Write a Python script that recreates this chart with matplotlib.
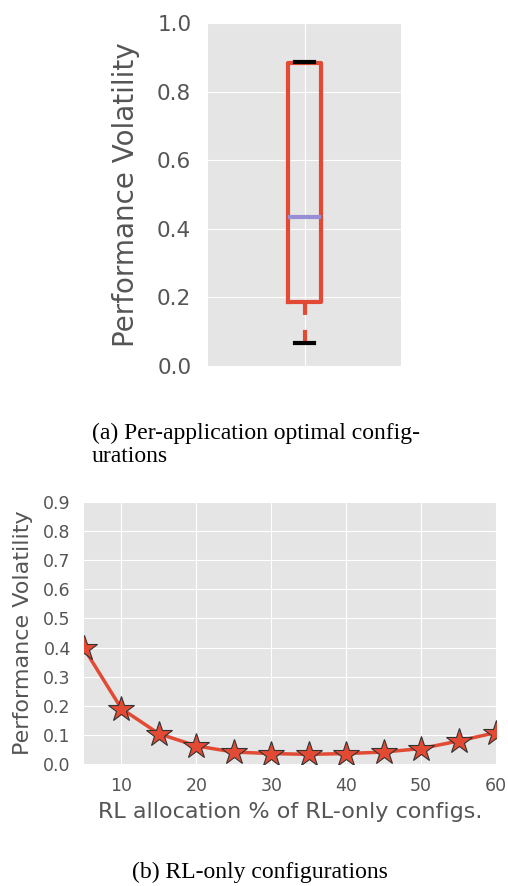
import matplotlib
matplotlib.use("Agg")
import matplotlib.pyplot as plt

plt.style.use("ggplot")

# Data
box_label = ["optimal"]
box_whislo = [0.066]
box_q1 = [0.187]
box_med = [0.433]
box_q3 = [0.882]
box_whishi = [0.885]

rl_alloc = [5, 10, 15, 20, 25, 30, 35, 40, 45, 50, 55, 60]
volatility = [0.397, 0.19, 0.104, 0.062, 0.041, 0.036, 0.033, 0.036, 0.041, 0.053, 0.079, 0.108]

top_yticks = [0.0, 0.2, 0.4, 0.6, 0.8, 1.0]
bot_yticks = [0.0, 0.1, 0.2, 0.3, 0.4, 0.5, 0.6, 0.7, 0.8, 0.9]
bot_xticks = [10, 20, 30, 40, 50, 60]

W, H = 508, 886
fig = plt.figure(figsize=(W / 100, H / 100), dpi=100)
fig.patch.set_facecolor("white")

def rect(l, t, r, b):
    return [l / W, 1 - b / H, (r - l) / W, (b - t) / H]

red = "#E24A33"
purple = "#988ED5"
gray = "#555555"

# Top: box plot
ax1 = fig.add_axes(rect(208, 23, 401, 366))
stats = [dict(label=box_label[0], whislo=box_whislo[0], q1=box_q1[0], med=box_med[0],
              q3=box_q3[0], whishi=box_whishi[0], fliers=[])]
ax1.bxp(stats, positions=[1], widths=0.175, capwidths=[0.1], showfliers=False,
        boxprops=dict(color=red, linewidth=3),
        whiskerprops=dict(color=red, linewidth=3, linestyle=(0, (3.1, 3.6))),
        capprops=dict(color="black", linewidth=3),
        medianprops=dict(color=purple, linewidth=3))
ax1.set_xlim(0.5, 1.5)
ax1.set_ylim(0, 1.0)
ax1.set_yticks(top_yticks)
ax1.set_yticklabels([f"{v:.1f}" for v in top_yticks])
ax1.set_xticks([1])
ax1.set_xticklabels([""])
ax1.tick_params(axis="both", length=0, labelsize=15.5, labelcolor=gray, pad=12)
ax1.set_ylabel("Performance Volatility", fontsize=20, color=gray, labelpad=12)
for s in ax1.spines.values():
    s.set_visible(False)

fig.text(92 / W, 1 - 445 / H, "(a) Per-application optimal config-\nurations",
         family="Liberation Serif", fontsize=17, ha="left", va="center",
         linespacing=1.1, color="black")

# Bottom: line plot
ax2 = fig.add_axes(rect(84, 502, 496, 764))
ax2.plot(rl_alloc, volatility, color=red, linewidth=2.5, marker="*", markersize=19,
         markerfacecolor=red, markeredgecolor="#333333", markeredgewidth=0.8)
ax2.set_xlim(5, 60)
ax2.set_ylim(0, 0.9)
ax2.set_yticks(bot_yticks)
ax2.set_yticklabels([f"{v:.1f}" for v in bot_yticks])
ax2.set_xticks(bot_xticks)
ax2.tick_params(axis="both", length=0, labelsize=12.5, labelcolor=gray, pad=9.5)
ax2.set_ylabel("Performance Volatility", fontsize=16, color=gray, labelpad=7)
ax2.set_xlabel("RL allocation % of RL-only configs.", fontsize=16, color=gray, labelpad=5)
for s in ax2.spines.values():
    s.set_visible(False)

fig.text(260 / W, 1 - 872 / H, "(b) RL-only configurations",
         family="Liberation Serif", fontsize=17, ha="center", va="center", color="black")

fig.savefig("out.png", dpi=100, facecolor="white")
